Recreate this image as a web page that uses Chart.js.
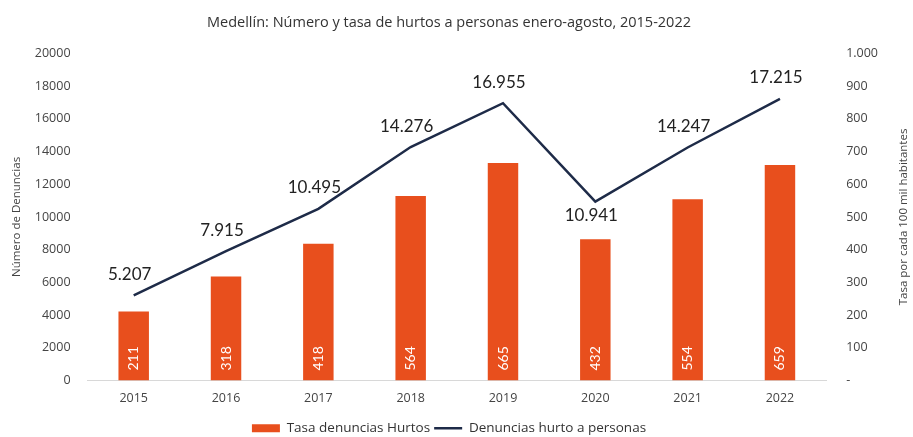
<!DOCTYPE html>
<html>
<head>
<meta charset="utf-8">
<script src="https://cdn.jsdelivr.net/npm/chart.js@4"></script>
<style>
  body { margin: 0; background: #fff; }
  #wrap { width: 913px; height: 437px; }
</style>
</head>
<body>
<div id="wrap"><canvas id="chart"></canvas></div>
<script>
// data
const years = ['2015', '2016', '2017', '2018', '2019', '2020', '2021', '2022'];
const tasaHurtos = [211, 318, 418, 564, 665, 432, 554, 659];           // bars, right axis
const denuncias = [5207, 7915, 10495, 14276, 16955, 10941, 14247, 17215]; // line, left axis
const labelBelow = [false, false, false, false, false, true, false, false];

const chartTitle = 'Medellín: Número y tasa de hurtos a personas enero-agosto, 2015-2022';
const leftTitle = 'Número de Denuncias';
const rightTitle = 'Tasa por cada 100 mil habitantes';

const BAR_COLOR = '#E84F1D';
const LINE_COLOR = '#1E2B48';
const FONT = '"Open Sans", Lato, sans-serif';
const LABEL_FONT = 'Lato, "Noto Sans", sans-serif';

// format 14276 -> "14.276"
function dotThousands(v) {
    return String(v).replace(/\B(?=(\d{3})+(?!\d))/g, '.');
}

// draws the value labels and the right axis title
const labelsPlugin = {
    id: 'valueLabels',
    beforeLayout(chart) {
        // pull the legend a bit closer to the bottom edge
        const lg = chart.legend;
        if (lg && !lg._patched) {
            const fit = lg.fit;
            lg.fit = function () {
                fit.call(this);
                this.height -= 8;
            };
            lg._patched = true;
        }
    },
    afterDatasetsDraw(chart) {
        const ctx = chart.ctx;
        ctx.save();

        // bar labels, rotated, inside bottom of bar
        const barMeta = chart.getDatasetMeta(0);
        ctx.fillStyle = '#ffffff';
        ctx.font = '14px ' + LABEL_FONT;
        ctx.textAlign = 'left';
        ctx.textBaseline = 'middle';
        barMeta.data.forEach((bar, i) => {
            ctx.save();
            ctx.translate(bar.x, bar.base - 10);
            ctx.rotate(-Math.PI / 2);
            ctx.fillText(String(tasaHurtos[i]), 0, 0);
            ctx.restore();
        });

        // line labels above (or below) each point
        const lineMeta = chart.getDatasetMeta(1);
        ctx.fillStyle = '#222';
        ctx.font = '17px ' + LABEL_FONT;
        ctx.textAlign = 'center';
        lineMeta.data.forEach((pt, i) => {
            const dy = labelBelow[i] ? 14 : -21;
            ctx.fillText(dotThousands(denuncias[i]), pt.x - 4, pt.y + dy);
        });

        // right axis title, reading bottom to top
        const yR = chart.scales.yR;
        ctx.save();
        ctx.fillStyle = '#444';
        ctx.font = '11.5px ' + FONT;
        ctx.translate(904, (yR.top + yR.bottom) / 2);
        ctx.rotate(-Math.PI / 2);
        ctx.fillText(rightTitle, 0, 0);
        ctx.restore();

        ctx.restore();
    }
};

new Chart(document.getElementById('chart'), {
    data: {
        labels: years,
        datasets: [{
            type: 'bar',
            label: 'Tasa denuncias Hurtos',
            data: tasaHurtos,
            yAxisID: 'yR',
            backgroundColor: BAR_COLOR,
            barPercentage: 0.66,
            categoryPercentage: 0.5,
            pointStyle: 'rect',
            order: 2
        }, {
            type: 'line',
            label: 'Denuncias hurto a personas',
            data: denuncias,
            yAxisID: 'y',
            borderColor: LINE_COLOR,
            backgroundColor: LINE_COLOR,
            borderWidth: 2.5,
            pointRadius: 0,
            pointStyle: 'line',
            tension: 0,
            order: 1
        }]
    },
    options: {
        responsive: true,
        maintainAspectRatio: false,
        animation: false,
        layout: {
            padding: { left: 8, right: 23, top: 0, bottom: 0 }
        },
        plugins: {
            title: {
                display: true,
                text: chartTitle,
                color: '#333',
                font: { family: FONT, size: 14.5, weight: 'normal' },
                padding: { top: 14, bottom: 22 }
            },
            legend: {
                position: 'bottom',
                labels: {
                    usePointStyle: true,
                    pointStyleWidth: 28,
                    boxHeight: 8,
                    color: '#333',
                    font: { family: FONT, size: 13.5 },
                    padding: 4,
                    sort: (a, b) => a.datasetIndex - b.datasetIndex
                }
            },
            tooltip: { enabled: false }
        },
        scales: {
            x: {
                grid: { display: false, drawTicks: false },
                border: { display: true, color: '#d8d8d8', width: 1 },
                ticks: {
                    color: '#444',
                    font: { family: FONT, size: 12.5 },
                    padding: 10
                },
                afterFit: scale => { scale.height += 2; }
            },
            y: {
                position: 'left',
                min: 0,
                max: 20000,
                grid: { display: false },
                border: { display: false },
                ticks: {
                    stepSize: 2000,
                    color: '#444',
                    font: { family: FONT, size: 12.5 },
                    padding: 9,
                    callback: v => String(v)
                },
                title: {
                    display: true,
                    text: leftTitle,
                    color: '#444',
                    font: { family: FONT, size: 11.5 },
                    padding: 2
                }
            },
            yR: {
                position: 'right',
                min: 0,
                max: 1000,
                grid: { display: false },
                border: { display: false },
                ticks: {
                    stepSize: 100,
                    color: '#444',
                    font: { family: FONT, size: 12.5 },
                    padding: 12,
                    callback: v => v === 0 ? '-' : dotThousands(v)
                }
            }
        }
    },
    plugins: [labelsPlugin]
});
</script>
</body>
</html>
